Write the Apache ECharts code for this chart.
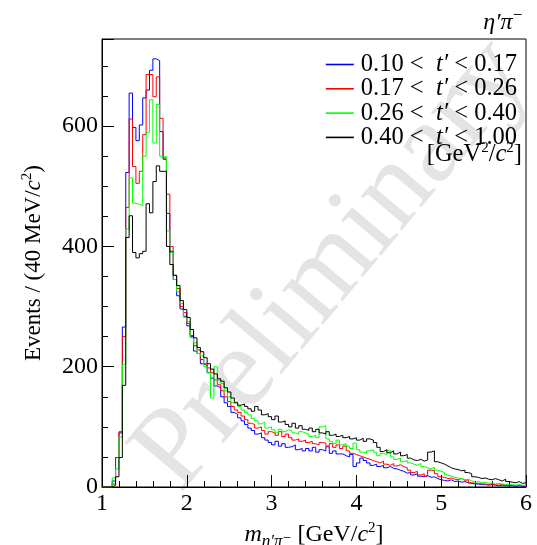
<!DOCTYPE html>
<html>
<head>
<meta charset="utf-8">
<script src="https://cdn.jsdelivr.net/npm/echarts@6/dist/echarts.min.js"></script>
<style>
html,body{margin:0;padding:0;background:#fff;}
#chart{width:537px;height:545px;}
</style>
</head>
<body>
<div id="chart"></div>
<script>
// Histogram: 125 bins of 40 MeV from 1.0 to 6.0 GeV
const binStart = 1.0;
const binWidth = 0.04;
const seriesNames = ["0.10 < t′ < 0.17", "0.17 < t′ < 0.26", "0.26 < t′ < 0.40", "0.40 < t′ < 1.00"];
const seriesLo = ["0.10", "0.17", "0.26", "0.40"];
const seriesHi = ["0.17", "0.26", "0.40", "1.00"];
const colors = ["#0000ff", "#ff0000", "#00ff00", "#000000"];

const blue = [
  0,0,0,10,49,90,266,523,655,598,
  576,602,647,660,693,712,709,591,545,455,
  392,345,318,296,284,268,250,226,222,205,
  202,190,181,168,165,150,140,134,124,121,
  115,110,104,98,94,88,90,82,78,74,
  70,76,68,72,66,67,70,62,64,60,
  64,60,66,58,62,60,67,56,60,55,
  55,52,50,54,34,40,48,44,40,36,
  38,34,36,32,34,31,30,28,26,23,
  24,20,22,18,17,19,16,17,14,12,
  11,10,12,9,10,8,9,7,6,5,
  5,4,4,3,4,3,2,3,2,2,
  2,1,2,1,1
];
const red = [
  0,0,0,5,49,92,250,465,612,533,
  505,525,586,686,686,649,682,613,547,487,
  400,352,330,300,290,272,252,235,228,212,
  205,198,190,178,170,160,150,142,134,128,
  124,118,112,106,104,98,100,94,88,92,
  90,86,92,84,88,82,78,80,76,78,
  74,76,72,70,74,73,68,72,66,70,
  64,68,60,56,54,52,50,48,46,44,
  42,40,43,38,36,39,35,37,34,32,
  28,24,26,20,22,18,28,27,22,17,
  16,14,15,13,12,14,11,12,7,6,
  6,5,5,4,5,4,3,4,3,3,
  3,2,3,2,2
];
const green = [
  0,0,0,15,30,83,204,429,514,472,
  470,468,550,590,644,572,636,550,549,426,
  390,345,325,305,282,275,248,240,222,218,
  200,190,148,200,178,172,160,150,140,142,
  134,128,124,120,114,110,105,108,98,100,
  95,90,96,92,95,94,90,88,92,90,
  88,84,86,82,100,102,80,76,72,78,
  70,72,68,64,73,62,58,56,60,62,
  58,52,56,54,61,50,46,48,42,44,
  40,38,36,39,34,32,30,33,28,26,
  24,20,18,16,15,14,12,13,10,8,
  9,7,8,6,7,5,6,5,4,5,
  4,3,4,3,2
];
const black = [
  0,0,0,3,17,49,169,415,451,390,
  381,388,392,471,456,508,534,525,525,400,
  370,352,335,310,295,282,262,248,232,225,
  215,205,196,188,180,176,165,158,148,140,
  136,138,134,130,126,134,128,120,122,117,
  112,118,108,110,104,100,106,98,102,96,
  94,98,92,96,90,88,92,86,88,84,
  86,82,84,80,82,78,81,76,80,78,
  74,66,59,62,57,60,55,58,52,54,
  48,45,44,46,43,45,58,60,42,40,
  38,35,32,30,29,27,28,24,22,17,
  16,14,15,13,12,14,12,10,13,9,
  8,7,9,6,7
];
const allValues = [blue, red, green, black];

function toSteps(vals) {
  const pts = vals.map((v, i) => [binStart + binWidth * i, v]);
  pts.push([binStart + binWidth * vals.length, vals[vals.length - 1]]);
  return pts;
}

const serif = "'Liberation Serif', 'DejaVu Serif', serif";
const chart = echarts.init(document.getElementById('chart'), null, {renderer: 'canvas'});

const legends = seriesNames.map((name, i) => ({
  orient: 'vertical',
  right: 15, top: 47 + i * 24.3,
  icon: 'rect',
  itemWidth: 28, itemHeight: 1.6,
  selectedMode: false,
  data: [name],
  formatter: function () {
    return '{n|' + seriesLo[i] + ' <  }{t|t′}{n| < ' + seriesHi[i] + '}';
  },
  textStyle: {
    padding: [0, 0, 0, 2],
    rich: {
      n: {fontFamily: serif, fontSize: 24.5, color: '#000'},
      t: {fontFamily: serif, fontStyle: 'italic', fontSize: 24.5, color: '#000'}
    }
  }
}));

const option = {
  animation: false,
  backgroundColor: '#ffffff',
  title: {
    text: '{g|η′π}{s|⁻}',
    right: 9, top: 5,
    textStyle: {
      fontWeight: 'normal',
      rich: {
        g: {fontFamily: serif, fontStyle: 'italic', fontWeight: 'normal', fontSize: 24, color: '#000'},
        s: {fontFamily: serif, fontWeight: 'normal', fontSize: 20, color: '#000', padding: [0, 0, 6, 0]}
      }
    }
  },
  grid: {left: 102, right: 11, top: 39, bottom: 58, show: true, borderColor: '#000', borderWidth: 1, containLabel: false, outerBoundsMode: 'none'},
  legend: legends,
  graphic: [
    {
      type: 'text', z: -10, silent: true,
      x: 333, y: 265, rotation: 50 * Math.PI / 180,
      style: {text: 'Preliminary', font: "116px 'Liberation Serif'", fill: '#e4e4e4', align: 'center', verticalAlign: 'middle'}
    },
    {
      type: 'text', silent: true,
      right: 15, top: 141,
      style: {
        text: '{n|[GeV}{p|2}{n|/}{t|c}{p|2}{n|]}',
        rich: {
          n: {fontFamily: serif, fontSize: 24.5, color: '#000'},
          t: {fontFamily: serif, fontStyle: 'italic', fontSize: 24.5, color: '#000'},
          p: {fontFamily: serif, fontSize: 15, color: '#000', padding: [0, 0, 12, 0]}
        }
      }
    }
  ],
  xAxis: {
    type: 'value', min: 1, max: 6, interval: 1,
    axisLine: {show: true, lineStyle: {color: '#000', width: 1}},
    axisTick: {inside: true, length: 12, lineStyle: {color: '#000'}},
    minorTick: {show: true, splitNumber: 5, length: 6, lineStyle: {color: '#000'}},
    splitLine: {show: false},
    axisLabel: {fontFamily: serif, fontSize: 24, color: '#000', margin: 5},
    name: '{m|m}{s|η′π⁻}{n| [GeV/}{m|c}{p|2}{n|]}',
    nameLocation: 'middle', nameGap: 19,
    nameTextStyle: {
      rich: {
        m: {fontFamily: serif, fontStyle: 'italic', fontSize: 24, color: '#000'},
        s: {fontFamily: serif, fontStyle: 'italic', fontSize: 17, color: '#000', padding: [14, 0, 0, 0]},
        n: {fontFamily: serif, fontSize: 24, color: '#000'},
        p: {fontFamily: serif, fontSize: 15, color: '#000', padding: [0, 0, 12, 0]}
      }
    }
  },
  yAxis: {
    type: 'value', min: 0, max: 745, interval: 200,
    axisLine: {show: true, lineStyle: {color: '#000', width: 1}},
    axisTick: {inside: true, length: 12, lineStyle: {color: '#000'}},
    minorTick: {show: true, splitNumber: 4, length: 6, lineStyle: {color: '#000'}},
    splitLine: {show: false},
    axisLabel: {fontFamily: serif, fontSize: 24, color: '#000', margin: 4, showMaxLabel: false},
    name: '{n|Events / (40 MeV/}{t|c}{p|2}{n|)}',
    nameLocation: 'middle', nameGap: 55,
    nameTextStyle: {
      rich: {
        n: {fontFamily: serif, fontSize: 23, color: '#000'},
        t: {fontFamily: serif, fontStyle: 'italic', fontSize: 23, color: '#000'},
        p: {fontFamily: serif, fontSize: 15, color: '#000', padding: [0, 0, 12, 0]}
      }
    }
  },
  series: allValues.map((vals, i) => ({
    name: seriesNames[i],
    type: 'line',
    step: 'end',
    symbol: 'none',
    showSymbol: false,
    data: toSteps(vals),
    color: colors[i],
    lineStyle: {color: colors[i], width: 1},
    emphasis: {disabled: true},
    z: 2 + i
  }))
};
chart.setOption(option);
</script>
</body>
</html>
